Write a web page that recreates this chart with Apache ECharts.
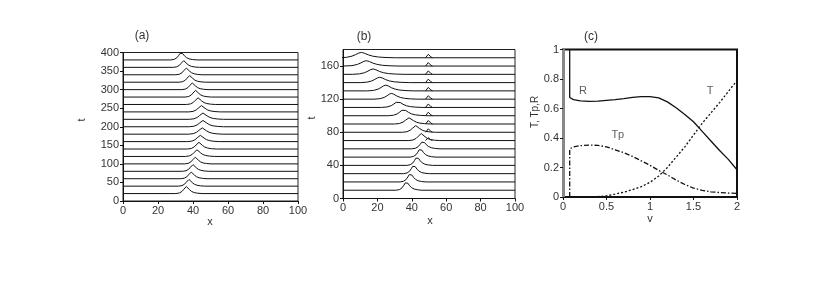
<!DOCTYPE html>
<html><head><meta charset="utf-8">
<script src="https://cdn.jsdelivr.net/npm/echarts@6/dist/echarts.min.js"></script>
<style>html,body{margin:0;padding:0;background:#fff}#c{width:817px;height:282px}</style>
</head><body><div id="c"></div>
<script>
// ---------- data ----------
const xTicksAB = [0, 20, 40, 60, 80, 100];
const yTicksA = [0, 50, 100, 150, 200, 250, 300, 350, 400];
const yTicksB = [0, 40, 80, 120, 160];
const xTicksC = [0, 0.5, 1, 1.5, 2];
const yTicksC = [0, 0.2, 0.4, 0.6, 0.8, 1];

// pulse profile (offset from peak, relative height)
const pulseDx = [-6, -4, -2.5, -1.5, -0.7, 0, 0.8, 1.8, 3, 4.5, 6.5, 9];
const pulseH  = [0, 0.08, 0.3, 0.6, 0.88, 1, 0.85, 0.55, 0.3, 0.14, 0.05, 0];
const spikeDx = [-2, -1, -0.4, 0, 0.4, 1, 2];
const spikeH  = [0, 0.2, 0.7, 1, 0.7, 0.2, 0];

// panel (a)
const baseA  = [20, 40, 60, 80, 100, 120, 140, 160, 180, 200, 220, 240, 260, 280, 300, 320, 340, 360, 380];
const peakA  = [36.2, 37.7, 39, 40, 41.3, 42.3, 43.4, 44.2, 45.3, 45.7, 45.7, 44.8, 42.9, 41.5, 39.6, 38.1, 36.2, 34.7, 33.3];
const ampA   = [19, 18, 18, 18, 18, 18, 18, 17, 17, 17, 17, 17, 18, 18, 18, 18, 18, 18, 20];
const widthA = [1, 1, 1, 1, 1, 1.1, 1.1, 1.2, 1.3, 1.3, 1.3, 1.2, 1.1, 1, 1, 1, 1, 1, 1];

// panel (b)
const baseB  = [10, 20, 30, 40, 50, 60, 70, 80, 90, 100, 110, 120, 130, 140, 150, 160, 170];
const peakB  = [36.9, 39.2, 41.2, 43.1, 45, 46.5, 45.5, 42.3, 38.4, 35.3, 32, 28.2, 24.9, 21.4, 17.5, 13.6, 10.7];
const ampB   = [10, 10, 10, 10, 10, 9, 8.5, 8, 7.5, 7.5, 7, 7, 7, 6.5, 6.5, 6.5, 6.5];
const widthB = [1, 1, 1, 1, 1, 1.1, 1.2, 1.3, 1.4, 1.5, 1.6, 1.7, 1.8, 1.9, 2, 2.1, 2.2];
const spikeBaseB = [70, 80, 90, 100, 110, 120, 130, 140, 150, 160, 170];
const spikePosB  = [50, 50, 50, 50, 50, 50, 50, 50, 50, 50, 50];
const spikeAmpB  = [5, 6, 6, 6, 6, 6, 6, 6, 6, 6, 6];

// panel (c)
const vR = [0.077, 0.077, 0.12, 0.2, 0.3, 0.4, 0.5, 0.6, 0.7, 0.8, 0.9, 1.0, 1.1, 1.2, 1.3, 1.4, 1.5, 1.6, 1.7, 1.8, 1.9, 2.0];
const R  = [1.0, 0.675, 0.66, 0.652, 0.648, 0.65, 0.655, 0.66, 0.667, 0.675, 0.68, 0.68, 0.672, 0.645, 0.605, 0.56, 0.51, 0.445, 0.38, 0.315, 0.255, 0.185];
const vT = [0.35, 0.5, 0.6, 0.7, 0.8, 0.9, 1.0, 1.1, 1.2, 1.3, 1.4, 1.5, 1.6, 1.7, 1.8, 1.9, 2.0];
const T  = [0, 0.008, 0.02, 0.033, 0.05, 0.07, 0.1, 0.142, 0.2, 0.27, 0.34, 0.42, 0.5, 0.57, 0.64, 0.715, 0.79];
const vTp = [0.077, 0.077, 0.12, 0.2, 0.3, 0.4, 0.5, 0.6, 0.7, 0.8, 0.9, 1.0, 1.1, 1.2, 1.3, 1.4, 1.5, 1.6, 1.7, 1.8, 1.9, 2.0];
const Tp  = [0, 0.325, 0.34, 0.348, 0.352, 0.35, 0.34, 0.32, 0.3, 0.275, 0.245, 0.215, 0.18, 0.15, 0.115, 0.085, 0.06, 0.045, 0.035, 0.03, 0.027, 0.025];
const curveLabels = [['R', 0.23, 0.72], ['T', 1.69, 0.72], ['Tp', 0.63, 0.42]];

// ---------- chart ----------
const FONT = 'Liberation Sans, Arial, sans-serif';
const TXT = '#333';
function trace(base, peak, amp, w, dx, h) {
  const pts = [];
  if (peak + dx[0] * w > 0) pts.push([0, base]);
  for (let i = 0; i < dx.length; i++) pts.push([peak + dx[i] * w, base + h[i] * amp]);
  if (peak + dx[dx.length - 1] * w < 100) pts.push([100, base]);
  return pts;
}
const lineS = (xi, data, extra) => Object.assign({
  type: 'line', xAxisIndex: xi, yAxisIndex: xi, data, symbol: 'none', silent: true,
  lineStyle: {color: '#111', width: 1}, animation: false, clip: true
}, extra || {});

const series = [];
baseA.forEach((b, i) => series.push(lineS(0, trace(b, peakA[i], ampA[i], widthA[i], pulseDx, pulseH))));
baseB.forEach((b, i) => series.push(lineS(1, trace(b, peakB[i], ampB[i], widthB[i], pulseDx, pulseH))));
spikeBaseB.forEach((b, i) => series.push(lineS(1, spikeDx.map((d, k) => [spikePosB[i] + d, b + spikeH[k] * spikeAmpB[i]]))));
series.push(lineS(2, vR.map((v, i) => [v, R[i]]), {lineStyle: {color: '#111', width: 1.3}}));
series.push(lineS(2, vT.map((v, i) => [v, T[i]]), {lineStyle: {color: '#111', width: 1.3, type: [2, 2]}}));
series.push(lineS(2, vTp.map((v, i) => [v, Tp[i]]), {lineStyle: {color: '#111', width: 1.3, type: [5, 2, 1.5, 2]}}));
series.push({type: 'scatter', xAxisIndex: 2, yAxisIndex: 2, symbolSize: 0, silent: true, animation: false,
  data: curveLabels.map(l => [l[1], l[2], l[0]]),
  label: {show: true, position: 'inside', formatter: p => p.data[2], fontFamily: FONT, fontSize: 11, color: TXT}});

function xAx(i, min, max, ticks) {
  return {gridIndex: i, type: 'value', min, max, interval: ticks[1] - ticks[0],
    axisLine: {show: true, onZero: false, lineStyle: {color: '#111', width: 1}},
    axisTick: {show: true, length: 3, lineStyle: {color: '#111'}, customValues: ticks},
    axisLabel: {show: true, margin: 4, fontFamily: FONT, fontSize: 11, color: TXT, customValues: ticks},
    splitLine: {show: false}};
}
function yAx(i, min, max, ticks, lineColor, lineWidth) {
  return {gridIndex: i, type: 'value', min, max,
    axisLine: {show: true, onZero: false, lineStyle: {color: lineColor || '#111', width: lineWidth || 1}},
    axisTick: {show: true, length: 3, lineStyle: {color: '#111'}, customValues: ticks},
    axisLabel: {show: true, margin: 4, fontFamily: FONT, fontSize: 11, color: TXT, customValues: ticks},
    splitLine: {show: false}};
}
const txt = (text, x, y, rot, size) => ({type: 'text', x, y, rotation: rot || 0, silent: true,
  style: {text, fontFamily: FONT, fontSize: size || 11, fill: TXT, textAlign: 'center', textVerticalAlign: 'middle'}});

const chart = echarts.init(document.getElementById('c'), null, {renderer: 'canvas'});
chart.setOption({
  animation: false,
  backgroundColor: '#fff',
  grid: [
    {left: 123, top: 52.5, width: 175, height: 148.5, show: true, borderColor: '#222', borderWidth: 1, outerBoundsMode: 'none'},
    {left: 343, top: 49.5, width: 172, height: 149, show: true, borderColor: '#222', borderWidth: 1, outerBoundsMode: 'none'},
    {left: 563, top: 49.5, width: 174, height: 147.5, show: true, borderColor: '#111', borderWidth: 2, outerBoundsMode: 'none'}
  ],
  xAxis: [xAx(0, 0, 100, xTicksAB), xAx(1, 0, 100, xTicksAB), xAx(2, 0, 2, xTicksC)],
  yAxis: [yAx(0, 0, 400, yTicksA), yAx(1, 0, 180, yTicksB), yAx(2, 0, 1, yTicksC, '#888', 3)],
  series,
  graphic: [
    txt('(a)', 142, 36, 0, 12), txt('(b)', 364, 37, 0, 12), txt('(c)', 591, 37, 0, 12),
    txt('x', 210, 222), txt('x', 430, 221), txt('v', 650, 219),
    txt('t', 82, 120, Math.PI / 2), txt('t', 312, 118, Math.PI / 2), txt('T, Tp,R', 535, 112, Math.PI / 2, 10)
  ]
});
</script></body></html>
